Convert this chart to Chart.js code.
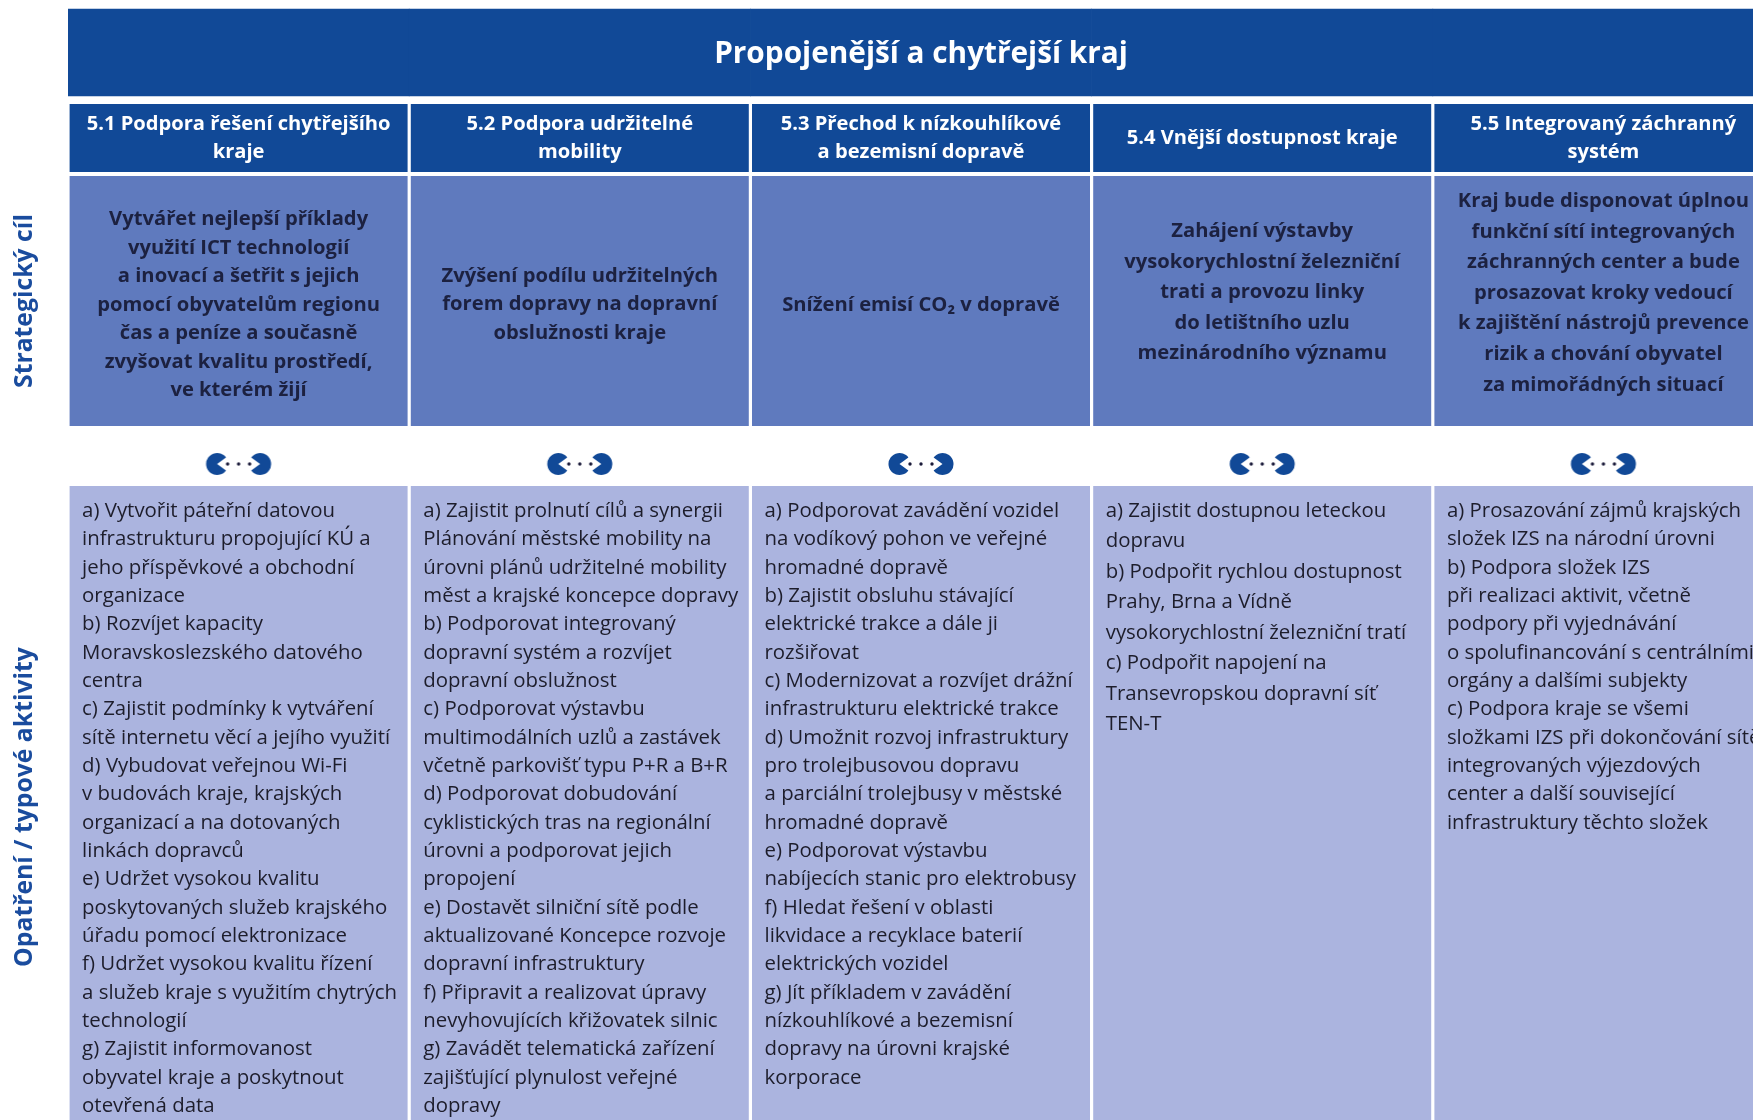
<!DOCTYPE html>
<html lang="cs">
<head>
<meta charset="utf-8">
<title>Propojenější a chytřejší kraj</title>
<script src="https://cdn.jsdelivr.net/npm/chart.js@4.4.1/dist/chart.umd.min.js"></script>
<style>
  html, body { margin: 0; padding: 0; background: #fff; overflow: hidden; }
  #wrap { position: relative; width: 1790px; height: 1120px; }
</style>
</head>
<body>
<div id="wrap"><canvas id="chart" width="1790" height="1120"></canvas></div>
<script>
const title = "Propojenější a chytřejší kraj";
const sideLabels = ["Strategický cíl", "Opatření / typové aktivity"];
const columnIds = ["5.1", "5.2", "5.3", "5.4", "5.5"];

const columnTitles = [
  ["5.1 Podpora řešení chytřejšího", "kraje"],
  ["5.2 Podpora udržitelné", "mobility"],
  ["5.3 Přechod k nízkouhlíkové", "a bezemisní dopravě"],
  ["5.4 Vnější dostupnost kraje"],
  ["5.5 Integrovaný záchranný", "systém"],
];

const goals = [
  ["Vytvářet nejlepší příklady", "využití ICT technologií", "a inovací a šetřit s jejich",
   "pomocí obyvatelům regionu", "čas a peníze a současně", "zvyšovat kvalitu prostředí,", "ve kterém žijí"],
  ["Zvýšení podílu udržitelných", "forem dopravy na dopravní", "obslužnosti kraje"],
  ["Snížení emisí CO₂ v dopravě"],
  ["Zahájení výstavby", "vysokorychlostní železniční", "trati a provozu linky",
   "do letištního uzlu", "mezinárodního významu"],
  ["Kraj bude disponovat úplnou", "funkční sítí integrovaných", "záchranných center a bude",
   "prosazovat kroky vedoucí", "k zajištění nástrojů prevence", "rizik a chování obyvatel",
   "za mimořádných situací"],
];

const activities = [
  ["a) Vytvořit páteřní datovou", "infrastrukturu propojující KÚ a", "jeho příspěvkové a obchodní",
   "organizace", "b) Rozvíjet kapacity", "Moravskoslezského datového", "centra",
   "c) Zajistit podmínky k vytváření", "sítě internetu věcí a jejího využití",
   "d) Vybudovat veřejnou Wi-Fi", "v budovách kraje, krajských", "organizací a na dotovaných",
   "linkách dopravců", "e) Udržet vysokou kvalitu", "poskytovaných služeb krajského",
   "úřadu pomocí elektronizace", "f) Udržet vysokou kvalitu řízení",
   "a služeb kraje s využitím chytrých", "technologií", "g) Zajistit informovanost",
   "obyvatel kraje a poskytnout", "otevřená data"],
  ["a) Zajistit prolnutí cílů a synergii", "Plánování městské mobility na",
   "úrovni plánů udržitelné mobility", "měst a krajské koncepce dopravy",
   "b) Podporovat integrovaný", "dopravní systém a rozvíjet", "dopravní obslužnost",
   "c) Podporovat výstavbu", "multimodálních uzlů a zastávek", "včetně parkovišť typu P+R a B+R",
   "d) Podporovat dobudování", "cyklistických tras na regionální", "úrovni a podporovat jejich",
   "propojení", "e) Dostavět silniční sítě podle", "aktualizované Koncepce rozvoje",
   "dopravní infrastruktury", "f) Připravit a realizovat úpravy",
   "nevyhovujících křižovatek silnic", "g) Zavádět telematická zařízení",
   "zajišťující plynulost veřejné", "dopravy"],
  ["a) Podporovat zavádění vozidel", "na vodíkový pohon ve veřejné", "hromadné dopravě",
   "b) Zajistit obsluhu stávající", "elektrické trakce a dále ji", "rozšiřovat",
   "c) Modernizovat a rozvíjet drážní", "infrastrukturu elektrické trakce",
   "d) Umožnit rozvoj infrastruktury", "pro trolejbusovou dopravu",
   "a parciální trolejbusy v městské", "hromadné dopravě", "e) Podporovat výstavbu",
   "nabíjecích stanic pro elektrobusy", "f) Hledat řešení v oblasti",
   "likvidace a recyklace baterií", "elektrických vozidel", "g) Jít příkladem v zavádění",
   "nízkouhlíkové a bezemisní", "dopravy na úrovni krajské", "korporace"],
  ["a) Zajistit dostupnou leteckou", "dopravu", "b) Podpořit rychlou dostupnost",
   "Prahy, Brna a Vídně", "vysokorychlostní železniční tratí", "c) Podpořit napojení na",
   "Transevropskou dopravní síť", "TEN-T"],
  ["a) Prosazování zájmů krajských", "složek IZS na národní úrovni", "b) Podpora složek IZS",
   "při realizaci aktivit, včetně", "podpory při vyjednávání", "o spolufinancování s centrálními",
   "orgány a dalšími subjekty", "c) Podpora kraje se všemi", "složkami IZS při dokončování sítě",
   "integrovaných výjezdových", "center a další související", "infrastruktury těchto složek"],
];

// layout (y axis runs in page pixels, top to bottom)
const rowBands = {
  banner: [9, 96],
  header: [104, 172],
  goal: [176, 426],
  connector: 464,
  activity: [486, 1130],
};
const sideLabelY = [301, 807];
const goalLineHeight = [28.5, 28.5, 28.5, 30.6, 30.6];
const goalShift = [4, 3.5, 4, -8.5, -8];
const activityLineHeight = [28.35, 28.35, 28.35, 30.5, 28.35];

const fontFamily = '"Open Sans", "Noto Sans", sans-serif';
const navy = "#114997";

function fitSize(text, target, weight) {
  const c = document.createElement("canvas").getContext("2d");
  c.font = weight + " 100px " + fontFamily;
  return (100 * target) / c.measureText(text).width;
}

const titleSize = fitSize(title, 414, 700);
const headerSize = fitSize(columnTitles[0][0], 304, 700);
const goalSize = fitSize(goals[0][3], 283, 700);
const activitySize = fitSize(activities[0][0], 253, 400);
const sideSize = fitSize(sideLabels[0], 174, 700);

function makeConnectorIcon() {
  const c = document.createElement("canvas");
  c.width = 70;
  c.height = 24;
  const g = c.getContext("2d");
  g.fillStyle = navy;
  const r = 11, cy = 12, mouth = 0.2 * Math.PI;
  // left one opens to the right
  g.beginPath();
  g.moveTo(13.5, cy);
  g.arc(13.5, cy, r, mouth, 2 * Math.PI - mouth);
  g.closePath();
  g.fill();
  // right one opens to the left
  g.beginPath();
  g.moveTo(56.5, cy);
  g.arc(56.5, cy, r, Math.PI + mouth, 3 * Math.PI - mouth);
  g.closePath();
  g.fill();
  g.fillStyle = "#1b1b3a";
  [24, 35, 46].forEach((x) => {
    g.beginPath();
    g.arc(x, cy, 1.7, 0, 2 * Math.PI);
    g.fill();
  });
  return c;
}

function band(meta, i) {
  const el = meta.data[i];
  return {
    left: el.x - el.width / 2,
    right: el.x + el.width / 2,
    x: el.x,
    top: Math.min(el.y, el.base),
    bottom: Math.max(el.y, el.base),
  };
}

const textPlugin = {
  id: "cellText",
  afterDatasetsDraw(chart) {
    const ctx = chart.ctx;
    const area = chart.chartArea;
    const yScale = chart.scales.y;
    ctx.save();
    ctx.textBaseline = "middle";

    // banner title
    const b = band(chart.getDatasetMeta(0), 0);
    ctx.fillStyle = "#ffffff";
    ctx.textAlign = "center";
    ctx.font = "700 " + titleSize + "px " + fontFamily;
    ctx.fillText(title, (area.left + area.right) / 2, (b.top + b.bottom) / 2 + 2);

    columnIds.forEach((id, i) => {
      // column heading
      const h = band(chart.getDatasetMeta(1), i);
      const hl = columnTitles[i];
      ctx.fillStyle = "#ffffff";
      ctx.textAlign = "center";
      ctx.font = "700 " + headerSize + "px " + fontFamily;
      hl.forEach((line, k) => {
        const y = (h.top + h.bottom) / 2 + 0.5 + (k - (hl.length - 1) / 2) * 28;
        ctx.fillText(line, h.x, y);
      });

      // strategic goal
      const g = band(chart.getDatasetMeta(2), i);
      const gl = goals[i];
      ctx.fillStyle = "#1c2140";
      ctx.font = "700 " + goalSize + "px " + fontFamily;
      gl.forEach((line, k) => {
        const y = (g.top + g.bottom) / 2 + goalShift[i] + (k - (gl.length - 1) / 2) * goalLineHeight[i];
        ctx.fillText(line, g.x, y);
      });

      // activities
      const a = band(chart.getDatasetMeta(3), i);
      ctx.fillStyle = "#1d1d2b";
      ctx.textAlign = "left";
      ctx.font = "400 " + activitySize + "px " + fontFamily;
      activities[i].forEach((line, k) => {
        ctx.fillText(line, a.left + 12.5, a.top + 25 + k * activityLineHeight[i]);
      });
    });

    // side labels
    ctx.fillStyle = "#1a4c9e";
    ctx.textAlign = "center";
    ctx.font = "700 " + sideSize + "px " + fontFamily;
    sideLabels.forEach((label, i) => {
      ctx.save();
      ctx.translate(area.left - 43, yScale.getPixelForValue(sideLabelY[i]));
      ctx.rotate(-Math.PI / 2);
      ctx.fillText(label, 0, 0);
      ctx.restore();
    });
    ctx.restore();
  },
};

const cellWidth = 338 / 341.2;

const ctx = document.getElementById("chart").getContext("2d");
new Chart(ctx, {
  type: "bar",
  data: {
    labels: columnIds,
    datasets: [
      {
        label: "banner",
        data: columnIds.map(() => rowBands.banner),
        backgroundColor: navy,
        barPercentage: 1,
        categoryPercentage: 1,
        grouped: false,
      },
      {
        label: "header",
        data: columnIds.map(() => rowBands.header),
        backgroundColor: navy,
        barPercentage: cellWidth,
        categoryPercentage: 1,
        grouped: false,
      },
      {
        label: "goal",
        data: columnIds.map(() => rowBands.goal),
        backgroundColor: "#5f7abe",
        barPercentage: cellWidth,
        categoryPercentage: 1,
        grouped: false,
      },
      {
        label: "activity",
        data: columnIds.map(() => rowBands.activity),
        backgroundColor: "#abb4df",
        barPercentage: cellWidth,
        categoryPercentage: 1,
        grouped: false,
      },
      {
        type: "line",
        label: "connector",
        data: columnIds.map(() => rowBands.connector),
        showLine: false,
        pointStyle: makeConnectorIcon(),
        pointRadius: 12,
        pointHoverRadius: 12,
      },
    ],
  },
  options: {
    responsive: false,
    animation: false,
    events: [],
    layout: { autoPadding: false, padding: { left: 68, right: 16, top: 0, bottom: 0 } },
    plugins: {
      legend: { display: false },
      tooltip: { enabled: false },
    },
    scales: {
      x: { display: false, offset: true },
      y: { display: false, reverse: true, min: 0, max: 1120 },
    },
  },
  plugins: [textPlugin],
});
</script>
</body>
</html>
